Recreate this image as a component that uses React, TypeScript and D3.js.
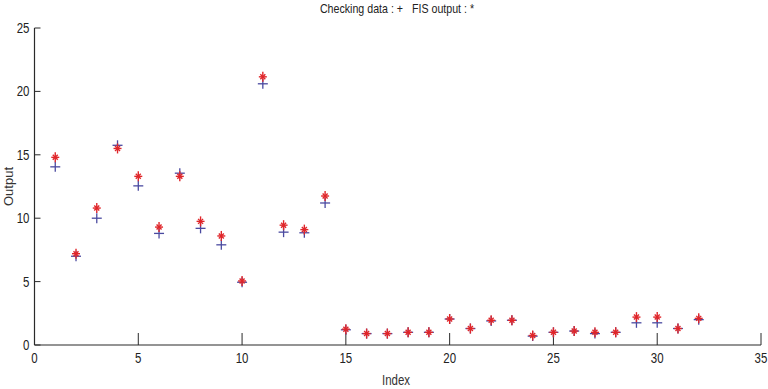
import React, { useEffect, useRef } from 'react';
import * as d3 from 'd3';

const index = d3.range(1, 33);
const checking = [
  14.05, 7.0, 10.0, 15.75, 12.55, 8.8, 13.55, 9.2, 7.9, 4.95, 20.6, 8.9, 8.85, 11.2,
  1.2, 0.9, 0.9, 1.0, 1.0, 2.05, 1.3, 1.9, 1.95, 0.7, 1.0, 1.1, 0.9, 1.0, 1.75, 1.75, 1.3, 2.0,
];
const fisOutput = [
  14.8, 7.2, 10.8, 15.5, 13.3, 9.3, 13.3, 9.75, 8.6, 5.05, 21.15, 9.45, 9.1, 11.75,
  1.25, 0.9, 0.9, 1.0, 1.0, 2.05, 1.3, 1.95, 1.95, 0.75, 1.0, 1.1, 1.0, 1.0, 2.2, 2.2, 1.3, 2.1,
];
const xTicks = [0, 5, 10, 15, 20, 25, 30, 35];
const yTicks = [0, 5, 10, 15, 20, 25];

const W = 768;
const H = 389;
const FONT = '"Liberation Sans", Arial, sans-serif';
const SQUEEZE = 0.82; // the reference text is condensed

export default function App() {
  const svgRef = useRef<SVGSVGElement>(null);

  useEffect(() => {
    if (!svgRef.current) return;
    const svg = d3.select(svgRef.current);
    svg.selectAll('*').remove();

    const margin = { top: 28, right: 7, bottom: 44, left: 34.5 };
    const x = d3.scaleLinear().domain([0, 35]).range([margin.left, W - margin.right]);
    const y = d3.scaleLinear().domain([0, 25]).range([H - margin.bottom, margin.top]);
    const axisColor = '#2a2a2a';

    // axes lines
    svg.append('line')
      .attr('x1', x(0)).attr('x2', x(35)).attr('y1', y(0)).attr('y2', y(0))
      .attr('stroke', axisColor).attr('stroke-width', 1.2);
    svg.append('line')
      .attr('x1', x(0)).attr('x2', x(0)).attr('y1', y(0)).attr('y2', y(25))
      .attr('stroke', axisColor).attr('stroke-width', 1.2);

    // x ticks (inward)
    svg.append('g').selectAll('line').data(xTicks).join('line')
      .attr('x1', (d) => x(d)).attr('x2', (d) => x(d))
      .attr('y1', y(0)).attr('y2', y(0) - 12)
      .attr('stroke', axisColor).attr('stroke-width', 1);
    svg.append('g').selectAll('text').data(xTicks).join('text')
      .attr('transform', (d) => `translate(${x(d)},${y(0) + 18}) scale(${SQUEEZE},1)`)
      .attr('text-anchor', 'middle')
      .attr('font-family', FONT).attr('font-size', 14).attr('fill', '#222')
      .text((d) => d);

    // y ticks (inward)
    svg.append('g').selectAll('line').data(yTicks).join('line')
      .attr('x1', x(0)).attr('x2', x(0) + 6)
      .attr('y1', (d) => y(d)).attr('y2', (d) => y(d))
      .attr('stroke', axisColor).attr('stroke-width', 1);
    svg.append('g').selectAll('text').data(yTicks).join('text')
      .attr('transform', (d) => `translate(${x(0) - 5},${y(d) + 5}) scale(${SQUEEZE},1)`)
      .attr('text-anchor', 'end')
      .attr('font-family', FONT).attr('font-size', 14).attr('fill', '#222')
      .text((d) => d);

    // labels
    svg.append('text')
      .attr('transform', `translate(397,13) scale(${SQUEEZE},1)`)
      .attr('text-anchor', 'middle')
      .attr('font-family', FONT).attr('font-size', 13).attr('fill', '#222')
      .attr('xml:space', 'preserve')
      .text('Checking data : +   FIS output : *');
    svg.append('text')
      .attr('transform', `translate(396,385) scale(${SQUEEZE},1)`)
      .attr('text-anchor', 'middle')
      .attr('font-family', FONT).attr('font-size', 14).attr('fill', '#333')
      .text('Index');
    svg.append('text')
      .attr('transform', `translate(13,${y(12.5)}) rotate(-90)`)
      .attr('text-anchor', 'middle')
      .attr('font-family', FONT).attr('font-size', 13).attr('fill', '#333')
      .text('Output');

    // checking data: blue plus
    const plus = svg.append('g').attr('stroke', '#4a4aa0').attr('stroke-width', 1.3);
    index.forEach((d, i) => {
      const cx = x(d);
      const cy = y(checking[i]);
      plus.append('line').attr('x1', cx - 5).attr('x2', cx + 5).attr('y1', cy).attr('y2', cy);
      plus.append('line').attr('x1', cx).attr('x2', cx).attr('y1', cy - 5).attr('y2', cy + 5);
    });

    // FIS output: red star
    const star = svg.append('g').attr('stroke', '#e0262a').attr('stroke-width', 1.4);
    index.forEach((d, i) => {
      const cx = x(d);
      const cy = y(fisOutput[i]);
      star.append('line').attr('x1', cx - 4).attr('x2', cx + 4).attr('y1', cy).attr('y2', cy);
      star.append('line').attr('x1', cx).attr('x2', cx).attr('y1', cy - 5).attr('y2', cy + 5);
      star.append('line').attr('x1', cx - 2.5).attr('x2', cx + 2.5).attr('y1', cy - 2.5).attr('y2', cy + 2.5);
      star.append('line').attr('x1', cx - 2.5).attr('x2', cx + 2.5).attr('y1', cy + 2.5).attr('y2', cy - 2.5);
    });
  }, []);

  return (
    <svg
      ref={svgRef}
      width={W}
      height={H}
      style={{ position: 'absolute', left: 0, top: 0, background: '#fff' }}
    />
  );
}
